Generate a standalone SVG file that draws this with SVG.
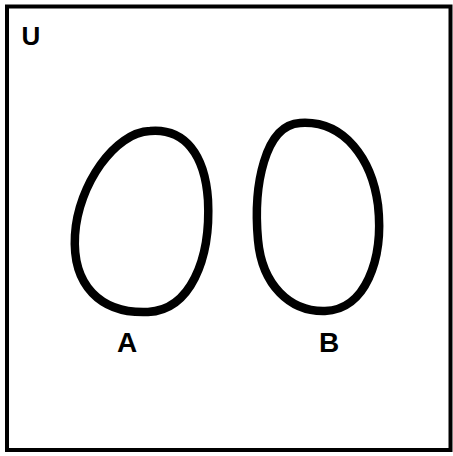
<svg xmlns="http://www.w3.org/2000/svg" width="453" height="456" viewBox="0 0 453 456">
  <style>
    .frame { fill: none; stroke: #000; stroke-width: 4; }
    .set { fill: none; stroke: #000; stroke-width: 8.5; stroke-linejoin: round; }
    .lbl { font-family: "Liberation Sans", Arial, sans-serif; font-weight: bold; font-size: 28px; fill: #000; text-anchor: middle; }
  </style>
  <rect width="453" height="456" fill="#fff"/>
  <g id="universe">
    <rect class="frame" x="7" y="6.5" width="443.5" height="443.5"/>
    <text class="lbl" x="31" y="45" style="font-size:26px">U</text>
  </g>
  <g id="setA">
    <path class="set" d="M 150 131 C 185 128, 205 155, 208 200 C 211 260, 190 310, 148 312 C 100 314, 72 285, 75 235 C 78 185, 115 132, 150 131 Z"/>
    <text class="lbl" x="127" y="352">A</text>
  </g>
  <g id="setB">
    <path class="set" d="M 300 123 C 345 120, 372 160, 378 205 C 384 260, 365 310, 325 311 C 290 312, 262 285, 258 240 C 253 185, 265 125, 300 123 Z"/>
    <text class="lbl" x="329" y="352">B</text>
  </g>
  <g id="connectors"/>
</svg>
